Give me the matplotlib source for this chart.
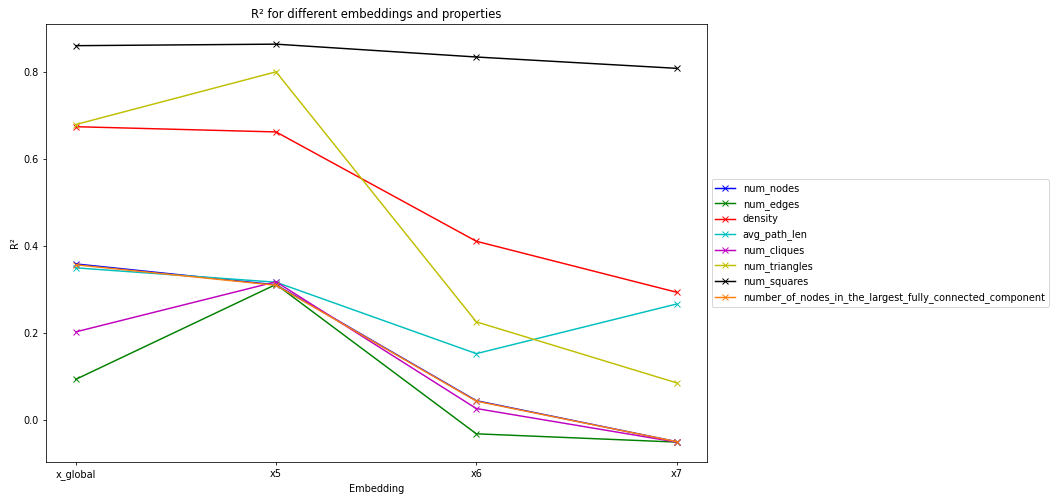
import numpy as np
import matplotlib.pyplot as plt

# Embeddings on the x axis
embeddings = ['x_global', 'x5', 'x6', 'x7']

# R² per property
num_nodes = [0.359, 0.311, 0.045, -0.049]
num_edges = [0.094, 0.312, -0.031, -0.050]
density = [0.674, 0.662, 0.411, 0.294]
avg_path_len = [0.350, 0.317, 0.153, 0.267]
num_cliques = [0.203, 0.318, 0.027, -0.050]
num_triangles = [0.679, 0.800, 0.226, 0.086]
num_squares = [0.860, 0.8635, 0.834, 0.808]
largest_component = [0.357, 0.310, 0.044, -0.049]

properties = ['num_nodes', 'num_edges', 'density', 'avg_path_len', 'num_cliques',
              'num_triangles', 'num_squares',
              'number_of_nodes_in_the_largest_fully_connected_component']
series = [num_nodes, num_edges, density, avg_path_len, num_cliques,
          num_triangles, num_squares, largest_component]
colors = ['b', 'g', 'r', 'c', 'm', 'y', 'k', '#ff7f0e']

# saved at a low dpi, so everything comes out a bit smaller
DPI = 70
fig = plt.figure(figsize=(1053 / DPI, 495 / DPI), dpi=DPI)
ax = fig.add_axes([0.0434, 0.0667, 0.6277, 0.8843])

x = np.arange(len(embeddings))
for name, vals, c in zip(properties, series, colors):
    ax.plot(x, vals, marker='x', color=c, label=name)

ax.set_xticks(x)
ax.set_xticklabels(embeddings)
ax.set_title('R² for different embeddings and properties')
ax.set_xlabel('Embedding')
ax.set_ylabel('R²')
ax.legend(loc='center left', bbox_to_anchor=(1, 0.5))

fig.savefig('out.png', dpi=DPI)
